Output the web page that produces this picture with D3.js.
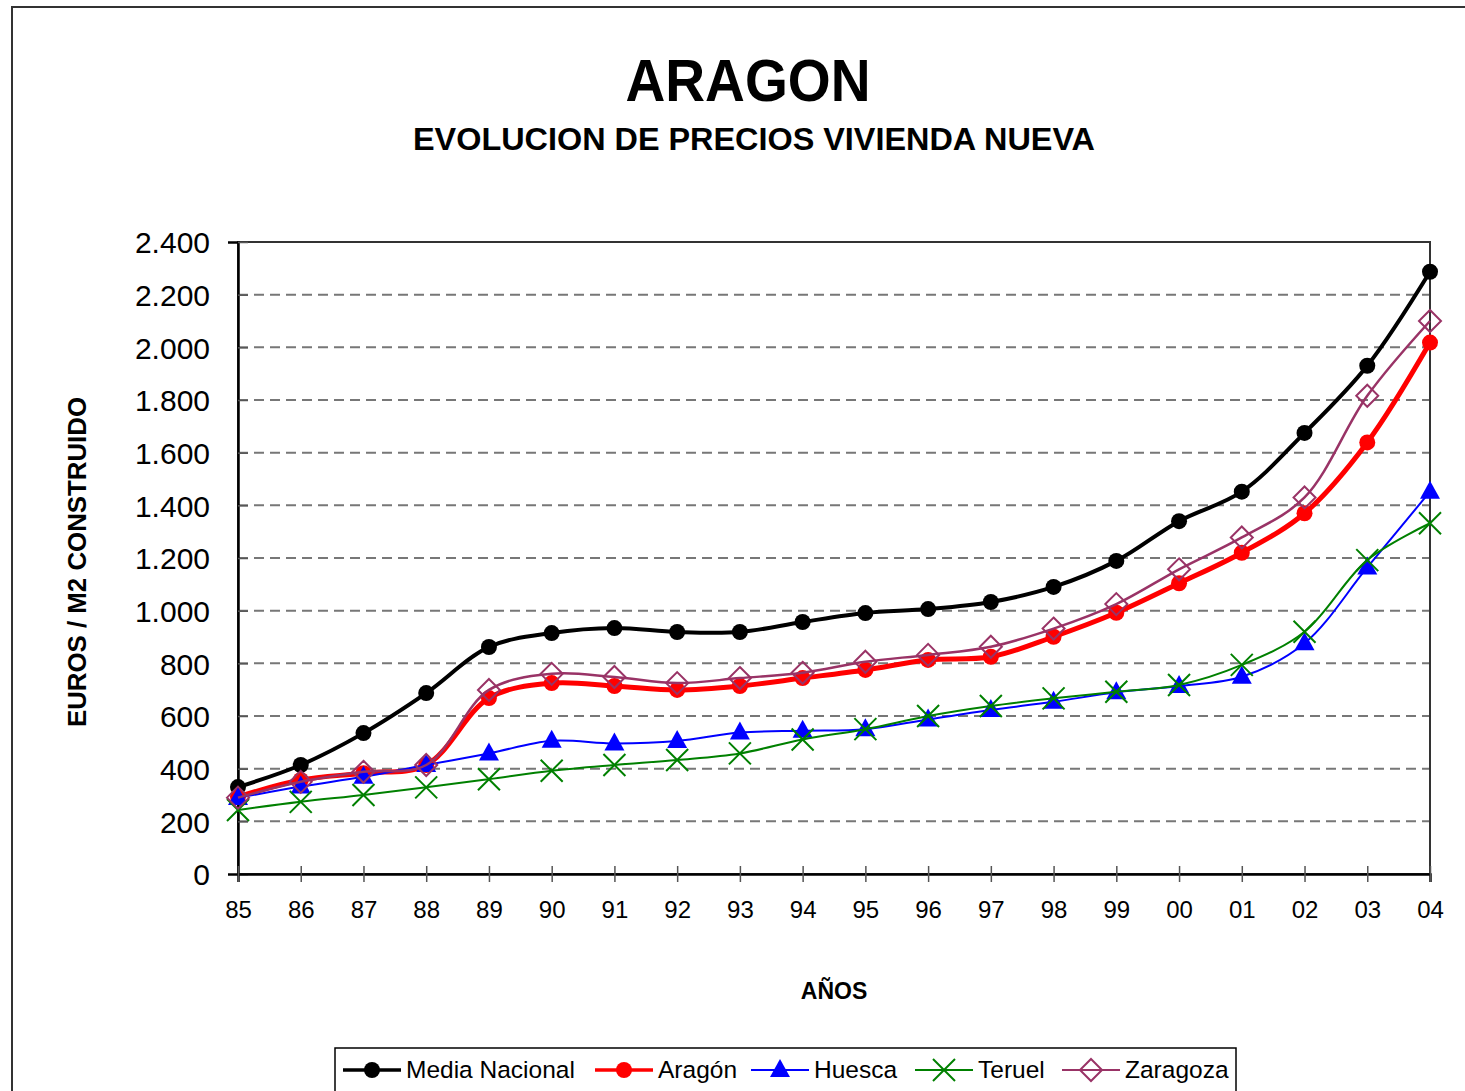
<!DOCTYPE html>
<html>
<head>
<meta charset="utf-8">
<script src="https://cdn.jsdelivr.net/npm/d3@7"></script>
<style>
  body { margin: 0; background: #fff; }
  text { font-family: "Liberation Sans", Arial, sans-serif; }
</style>
</head>
<body>
<div id="container"></div>
<script>
// categories and values (euros / m2)
const years = ['85','86','87','88','89','90','91','92','93','94','95','96','97','98','99','00','01','02','03','04'];
const mediaNacional = [330, 414, 535, 687, 862, 915, 934, 919, 919, 957, 991, 1006, 1033, 1090, 1189, 1340, 1452, 1675, 1930, 2287];
const aragon       = [293, 357, 383, 414, 668, 725, 714, 699, 714, 744, 775, 813, 825, 901, 992, 1104, 1220, 1370, 1639, 2018];
const huesca       = [289, 332, 369, 414, 458, 506, 496, 505, 537, 544, 550, 587, 623, 654, 690, 714, 749, 876, 1164, 1452];
const teruel       = [243, 274, 300, 329, 360, 392, 414, 433, 458, 511, 550, 600, 638, 667, 692, 718, 794, 920, 1192, 1332];
const zaragoza     = [290, 350, 388, 414, 699, 760, 748, 725, 744, 764, 806, 832, 863, 932, 1025, 1157, 1278, 1430, 1816, 2100];
const yTicks = [0, 200, 400, 600, 800, 1000, 1200, 1400, 1600, 1800, 2000, 2200, 2400];

const series = [
  {name: 'Media Nacional', values: mediaNacional, color: '#000000', width: 4, marker: 'circle'},
  {name: 'Aragón', values: aragon, color: '#ff0000', width: 5, marker: 'circle'},
  {name: 'Huesca', values: huesca, color: '#0000ff', width: 2, marker: 'triangle'},
  {name: 'Teruel', values: teruel, color: '#008000', width: 2, marker: 'cross'},
  {name: 'Zaragoza', values: zaragoza, color: '#993366', width: 2.5, marker: 'diamond'}
];

const W = 1465, H = 1091;
const plotLeft = 238, plotRight = 1430, plotTop = 242, plotBottom = 874;

const svg = d3.select('#container').append('svg')
  .attr('width', W).attr('height', H);

// outer frame
svg.append('rect')
  .attr('x', 12).attr('y', 7).attr('width', W).attr('height', H)
  .attr('fill', '#fff').attr('stroke', '#333').attr('stroke-width', 2);

const x = d3.scalePoint().domain(years).range([plotLeft, plotRight]);
const y = d3.scaleLinear().domain([0, 2400]).range([plotBottom, plotTop]);

const loc = d3.formatLocale({decimal: ',', thousands: '.', grouping: [3], currency: ['', '€']});
const fmt = loc.format(',d');

// titles
svg.append('text')
  .attr('x', 748).attr('y', 101)
  .attr('text-anchor', 'middle')
  .attr('textLength', 245).attr('lengthAdjust', 'spacingAndGlyphs')
  .style('font-size', '59px').style('font-weight', 'bold')
  .text('ARAGON');

svg.append('text')
  .attr('x', 754).attr('y', 150)
  .attr('text-anchor', 'middle')
  .attr('textLength', 682).attr('lengthAdjust', 'spacingAndGlyphs')
  .style('font-size', '31px').style('font-weight', 'bold')
  .text('EVOLUCION DE PRECIOS VIVIENDA NUEVA');

// gridlines
svg.append('g')
  .selectAll('line')
  .data(yTicks.filter(d => d > 0 && d < 2400))
  .enter()
  .append('line')
  .attr('x1', plotLeft).attr('x2', plotRight)
  .attr('y1', d => y(d)).attr('y2', d => y(d))
  .attr('stroke', '#777').attr('stroke-width', 2)
  .attr('stroke-dasharray', '10,6');

// plot area border
svg.append('rect')
  .attr('x', plotLeft).attr('y', plotTop)
  .attr('width', plotRight - plotLeft).attr('height', plotBottom - plotTop)
  .attr('fill', 'none').attr('stroke', '#333').attr('stroke-width', 2);

// y axis
const yAxis = svg.append('g')
  .attr('transform', `translate(${plotLeft},0)`)
  .call(d3.axisLeft(y).tickValues(yTicks).tickFormat(fmt).tickSize(10).tickPadding(18));
yAxis.select('.domain').attr('stroke', '#000').attr('stroke-width', 2.5);
yAxis.selectAll('.tick line').attr('x2', 10).attr('stroke', '#555').attr('stroke-width', 1.5);
yAxis.selectAll('.tick text')
  .style('font-size', '30px').attr('fill', '#000').attr('dy', '0.36em');

// x axis
const xAxis = svg.append('g')
  .attr('transform', `translate(0,${plotBottom})`)
  .call(d3.axisBottom(x).tickSize(8).tickPadding(19));
xAxis.select('.domain').attr('stroke', '#000').attr('stroke-width', 2.5);
xAxis.selectAll('.tick line').attr('y1', -8).attr('stroke', '#555').attr('stroke-width', 1.5);
xAxis.selectAll('.tick text').style('font-size', '24px').attr('fill', '#000');

// axis titles
svg.append('text')
  .attr('transform', 'translate(86,562) rotate(-90)')
  .attr('text-anchor', 'middle')
  .attr('textLength', 330).attr('lengthAdjust', 'spacingAndGlyphs')
  .style('font-size', '25px').style('font-weight', 'bold')
  .text('EUROS / M2 CONSTRUIDO');

svg.append('text')
  .attr('x', 834).attr('y', 999)
  .attr('text-anchor', 'middle')
  .style('font-size', '23px').style('font-weight', 'bold')
  .text('AÑOS');

// markers
function drawMarker(g, type, color, cx, cy) {
  if (type === 'circle') {
    g.append('circle').attr('cx', cx).attr('cy', cy).attr('r', 8).attr('fill', color);
  } else if (type === 'triangle') {
    g.append('path')
      .attr('d', `M${cx},${cy - 11}L${cx + 10},${cy + 7}L${cx - 10},${cy + 7}Z`)
      .attr('fill', color);
  } else if (type === 'cross') {
    g.append('path')
      .attr('d', `M${cx - 11},${cy - 11}L${cx + 11},${cy + 11}M${cx - 11},${cy + 11}L${cx + 11},${cy - 11}`)
      .attr('stroke', color).attr('stroke-width', 2).attr('fill', 'none');
  } else if (type === 'diamond') {
    g.append('path')
      .attr('d', `M${cx},${cy - 11}L${cx + 11},${cy}L${cx},${cy + 11}L${cx - 11},${cy}Z`)
      .attr('stroke', color).attr('stroke-width', 2).attr('fill', 'none');
  }
}

const line = d3.line()
  .x((d, i) => x(years[i]))
  .y(d => y(d))
  .curve(d3.curveCatmullRom.alpha(0.5));

series.forEach(s => {
  const g = svg.append('g');
  g.append('path')
    .datum(s.values)
    .attr('d', line)
    .attr('fill', 'none')
    .attr('stroke', s.color)
    .attr('stroke-width', s.width);
  s.values.forEach((v, i) => drawMarker(g, s.marker, s.color, x(years[i]), y(v)));
});

// legend
const legend = svg.append('g');
legend.append('rect')
  .attr('x', 335).attr('y', 1048).attr('width', 901).attr('height', 60)
  .attr('fill', '#fff').attr('stroke', '#000').attr('stroke-width', 1.5);

const legendX = [343, 595, 751, 915, 1062];
series.forEach((s, i) => {
  const lx = legendX[i];
  legend.append('line')
    .attr('x1', lx).attr('x2', lx + 58)
    .attr('y1', 1070).attr('y2', 1070)
    .attr('stroke', s.color).attr('stroke-width', s.width > 3 ? 3.5 : 2);
  drawMarker(legend, s.marker, s.color, lx + 29, 1070);
  legend.append('text')
    .attr('x', lx + 63).attr('y', 1078)
    .style('font-size', '24.5px')
    .text(s.name);
});
</script>
</body>
</html>
